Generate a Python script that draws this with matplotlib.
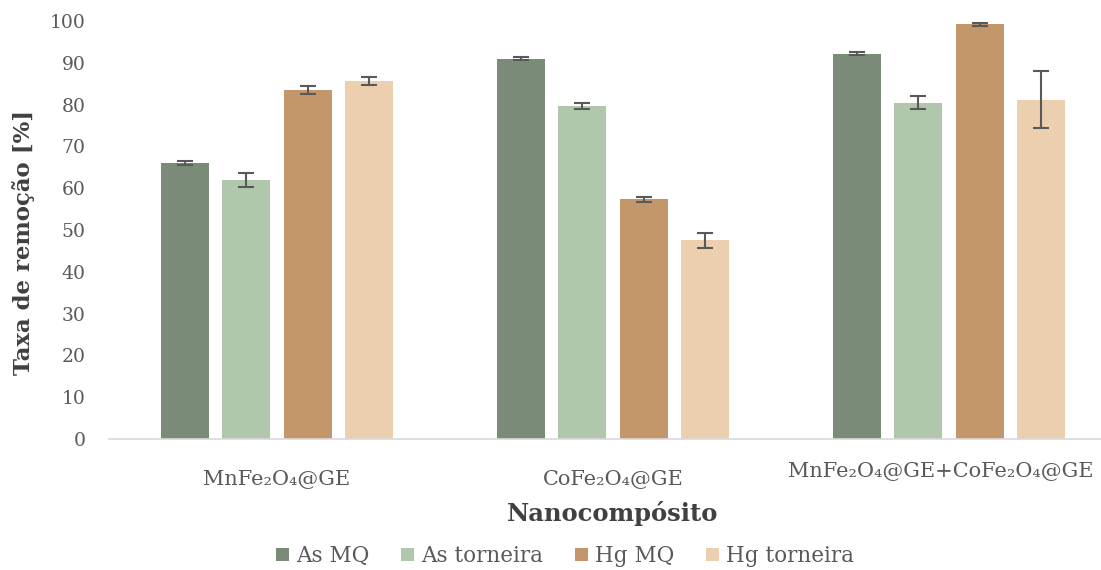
import numpy as np
import matplotlib.pyplot as plt
import matplotlib.transforms as mtransforms

# data
categorias = ['MnFe₂O₄@GE', 'CoFe₂O₄@GE', 'MnFe₂O₄@GE+CoFe₂O₄@GE']
series = ['As MQ', 'As torneira', 'Hg MQ', 'Hg torneira']
as_mq = [66.0, 91.0, 92.2]
as_torneira = [62.0, 79.7, 80.5]
hg_mq = [83.5, 57.3, 99.2]
hg_torneira = [85.6, 47.6, 81.2]
err_as_mq = [0.5, 0.3, 0.3]
err_as_torneira = [1.6, 0.8, 1.5]
err_hg_mq = [1.0, 0.5, 0.3]
err_hg_torneira = [1.0, 1.8, 6.8]

valores = [as_mq, as_torneira, hg_mq, hg_torneira]
erros = [err_as_mq, err_as_torneira, err_hg_mq, err_hg_torneira]
cores = ['#7a8c77', '#b0c7ac', '#c3976a', '#eccfae']

plt.rcParams['font.family'] = ['DejaVu Serif']

fig = plt.figure(figsize=(11.01, 5.70), dpi=100)
ax = fig.add_axes([109/1101, 131/570, 1008/1101, 418/570])

x = np.arange(len(categorias))
largura = 0.143
passo = 0.183
for i, (v, e, c, s) in enumerate(zip(valores, erros, cores, series)):
    pos = x + (i - 1.5) * passo
    ax.bar(pos, v, largura, color=c, label=s, zorder=2)
    ax.errorbar(pos, v, yerr=e, fmt='none', ecolor='#595959', elinewidth=1.5,
                capsize=6, capthick=1.5, zorder=3)

ax.set_xlim(-0.5, 2.5)
ax.set_ylim(0, 100)
ax.set_yticks(range(0, 101, 10))
ax.set_xticks(x)
ax.set_xticklabels(categorias)
ax.tick_params(axis='both', length=0, colors='#595959')
ax.tick_params(axis='y', labelsize=13.5, pad=17)
ax.tick_params(axis='x', labelsize=15, pad=22)

# third label sits a bit higher in the reference
lbl = ax.get_xticklabels()[2]
lbl.set_transform(lbl.get_transform() + mtransforms.ScaledTranslation(-8/100, 8/100, fig.dpi_scale_trans))

for s in ['top', 'right', 'left']:
    ax.spines[s].set_visible(False)
ax.spines['bottom'].set_color('#d9d9d9')
ax.spines['bottom'].set_linewidth(1.2)

ax.set_ylabel('Taxa de remoção [%]', fontsize=16.5, fontweight='bold', color='#404040')
ax.yaxis.set_label_coords(-0.073, 0.47)
ax.set_xlabel('Nanocompósito', fontsize=17.5, fontweight='bold', color='#404040', labelpad=9)

fig.legend(loc='center', bbox_to_anchor=(565/1101, 1 - 556/570), ncol=4, frameon=False,
           fontsize=15.5, handlelength=0.6, handleheight=0.6, handletextpad=0.3,
           columnspacing=1.5, labelcolor='#595959')

fig.savefig('out.png', dpi=100)
